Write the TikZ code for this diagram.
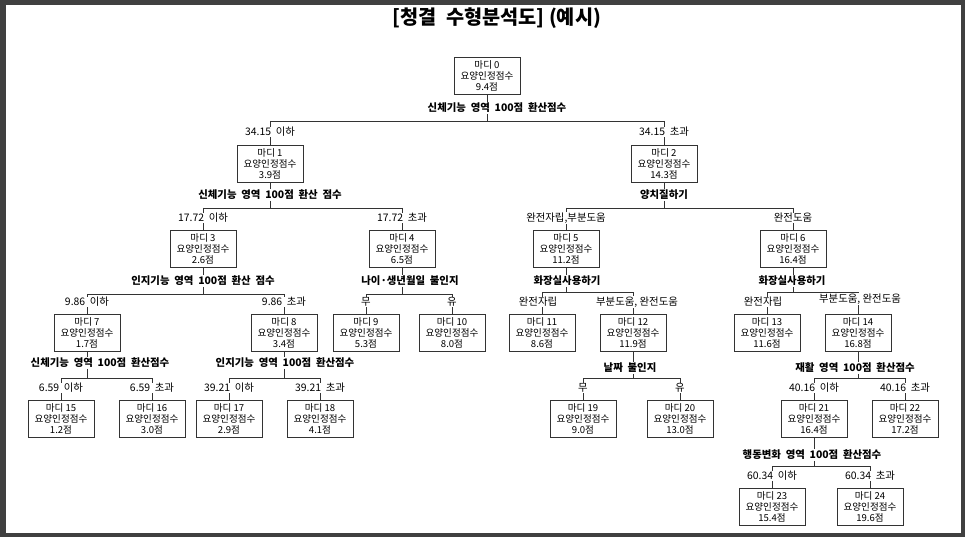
\documentclass[tikz,border=0pt]{standalone}
\usepackage{fontspec}
\setmainfont{Noto Sans CJK KR}
\begin{document}
\begin{tikzpicture}[x=0.025cm,y=-0.025cm,
    box/.style={draw=black!80,line width=0.5pt,align=center,inner sep=1pt,minimum width=66*0.025cm,minimum height=37*0.025cm,font=\fontsize{6.8}{7.6}\selectfont},
    split/.style={inner sep=0.5pt,font=\fontsize{7.4}{8}\selectfont\bfseries},
    cut/.style={inner sep=0.5pt,fill=white,font=\fontsize{7.4}{8}\selectfont},
    bar/.style={draw=black!80,line width=0.5pt}]
    \fill [black!75] (0,0) rectangle (965,537);
    \fill [white] (6,5) rectangle (961,533);
    \useasboundingbox (0,0) rectangle (965,537);
    \node [font=\fontsize{14}{16}\selectfont\bfseries] (title) at (497,18) {[청결\ \ 수형분석도]\ (예시)};
    % nodes
    \node [box] (n0) at (487,76) {마디 0\\요양인정점수\\9.4점};
    \node [box] (n1) at (270,164) {마디 1\\요양인정점수\\3.9점};
    \node [box] (n2) at (664,164) {마디 2\\요양인정점수\\14.3점};
    \node [box] (n3) at (203,249) {마디 3\\요양인정점수\\2.6점};
    \node [box] (n4) at (402,249) {마디 4\\요양인정점수\\6.5점};
    \node [box] (n5) at (566,249) {마디 5\\요양인정점수\\11.2점};
    \node [box] (n6) at (793,249) {마디 6\\요양인정점수\\16.4점};
    \node [box] (n7) at (87,333) {마디 7\\요양인정점수\\1.7점};
    \node [box] (n8) at (284,333) {마디 8\\요양인정점수\\3.4점};
    \node [box] (n9) at (366,333) {마디 9\\요양인정점수\\5.3점};
    \node [box] (n10) at (452,333) {마디 10\\요양인정점수\\8.0점};
    \node [box] (n11) at (542,333) {마디 11\\요양인정점수\\8.6점};
    \node [box] (n12) at (633,333) {마디 12\\요양인정점수\\11.9점};
    \node [box] (n13) at (767,333) {마디 13\\요양인정점수\\11.6점};
    \node [box] (n14) at (858,333) {마디 14\\요양인정점수\\16.8점};
    \node [box] (n15) at (61,419) {마디 15\\요양인정점수\\1.2점};
    \node [box] (n16) at (152,419) {마디 16\\요양인정점수\\3.0점};
    \node [box] (n17) at (229,419) {마디 17\\요양인정점수\\2.9점};
    \node [box] (n18) at (320,419) {마디 18\\요양인정점수\\4.1점};
    \node [box] (n19) at (583,419) {마디 19\\요양인정점수\\9.0점};
    \node [box] (n20) at (680,419) {마디 20\\요양인정점수\\13.0점};
    \node [box] (n21) at (814,419) {마디 21\\요양인정점수\\16.4점};
    \node [box] (n22) at (905,419) {마디 22\\요양인정점수\\17.2점};
    \node [box] (n23) at (772,507) {마디 23\\요양인정점수\\15.4점};
    \node [box] (n24) at (870,507) {마디 24\\요양인정점수\\19.6점};
    % split labels
    \node [split] (s0) at (497,108) {신체기능\ \ 영역\ \ 100점\ \ 환산점수};
    \node [split] (s1) at (270,195) {신체기능\ \ 영역\ \ 100점\ \ 환산\ \ 점수};
    \node [split] (s2) at (664,195) {양치질하기};
    \node [split] (s3) at (203,281) {인지기능\ \ 영역\ \ 100점\ \ 환산\ \ 점수};
    \node [split] (s4) at (410,281) {나이·생년월일\ \ 불인지};
    \node [split] (s5) at (567,281) {화장실사용하기};
    \node [split] (s6) at (792,281) {화장실사용하기};
    \node [split] (s7) at (100,363) {신체기능\ \ 영역\ \ 100점\ \ 환산점수};
    \node [split] (s8) at (285,363) {인지기능\ \ 영역\ \ 100점\ \ 환산점수};
    \node [split] (s12) at (630,368) {날짜\ \ 불인지};
    \node [split] (s14) at (855,368) {재활\ \ 영역\ \ 100점\ \ 환산점수};
    \node [split] (s21) at (812,455) {행동변화\ \ 영역\ \ 100점\ \ 환산점수};
    % bars
    \newcommand{\branch}[5]{%
      \coordinate (b#2) at (0,#5);
      \draw [bar] (#1.south) -- (#1.south |- s#2.north);
      \draw [bar] (#1.south |- s#2.south) -- (#1.south |- b#2);
      \draw [bar] (#3.north |- b#2) -- (#4.north |- b#2);
      \draw [bar] (#3.north |- b#2) -- (#3.north);
      \draw [bar] (#4.north |- b#2) -- (#4.north);}
    \branch{n0}{0}{n1}{n2}{121}
    \branch{n1}{1}{n3}{n4}{208}
    \branch{n2}{2}{n5}{n6}{208}
    \branch{n3}{3}{n7}{n8}{294}
    \branch{n4}{4}{n9}{n10}{294}
    \branch{n5}{5}{n11}{n12}{292}
    \branch{n6}{6}{n13}{n14}{292}
    \branch{n7}{7}{n15}{n16}{378}
    \branch{n8}{8}{n17}{n18}{378}
    \branch{n12}{12}{n19}{n20}{378}
    \branch{n14}{14}{n21}{n22}{378}
    \branch{n21}{21}{n23}{n24}{466}
    % cut labels
    \node [cut] (c1) at (270,132) {34.15\ \ 이하};
    \node [cut] (c2) at (664,132) {34.15\ \ 초과};
    \node [cut] (c3) at (203,218) {17.72\ \ 이하};
    \node [cut] (c4) at (402,218) {17.72\ \ 초과};
    \node [cut] (c5) at (566,218) {완전자립,부분도움};
    \node [cut] (c6) at (793,218) {완전도움};
    \node [cut] (c7) at (87,302) {9.86\ \ 이하};
    \node [cut] (c8) at (284,302) {9.86\ \ 초과};
    \node [cut] (c9) at (366,302) {무};
    \node [cut] (c10) at (452,302) {유};
    \node [cut] (c11) at (538,302) {완전자립};
    \node [cut] (c12) at (637,302) {부분도움,\ 완전도움};
    \node [cut] (c13) at (763,302) {완전자립};
    \node [cut] (c14) at (860,299) {부분도움,\ 완전도움};
    \node [cut] (c15) at (61,388) {6.59\ \ 이하};
    \node [cut] (c16) at (152,388) {6.59\ \ 초과};
    \node [cut] (c17) at (229,388) {39.21\ \ 이하};
    \node [cut] (c18) at (320,388) {39.21\ \ 초과};
    \node [cut] (c19) at (583,388) {무};
    \node [cut] (c20) at (680,388) {유};
    \node [cut] (c21) at (814,388) {40.16\ \ 이하};
    \node [cut] (c22) at (905,388) {40.16\ \ 초과};
    \node [cut] (c23) at (772,476) {60.34\ \ 이하};
    \node [cut] (c24) at (870,476) {60.34\ \ 초과};
\end{tikzpicture}
\end{document}
